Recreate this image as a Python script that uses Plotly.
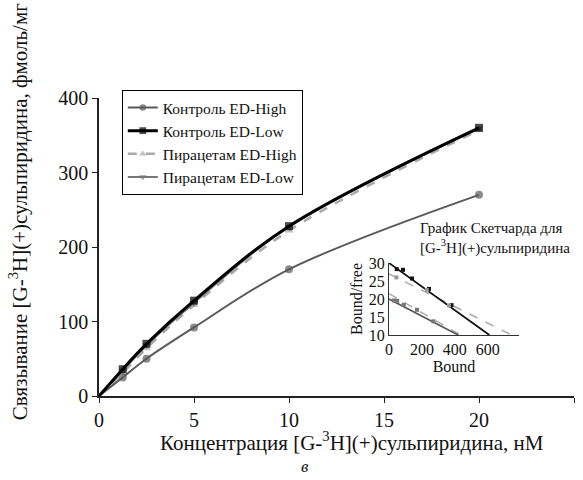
import plotly.graph_objects as go

# Main saturation data
conc = [1.25, 2.5, 5, 10, 20]
ctrl_high = [25, 50, 92, 170, 270]
ctrl_low = [36, 70, 128, 228, 360]
pir_high = [31, 64, 122, 222, 357]
pir_low = [34, 68, 125, 227, 359]

# Scatchard inset data
sc_ctrl_low_b = [47, 85, 140, 243, 380]
sc_ctrl_low_bf = [28.3, 28.1, 25.7, 22.8, 18.3]
sc_ctrl_low_line_x = [0, 610]
sc_ctrl_low_line_y = [30, 10]
sc_pir_high_b = [45, 230, 365]
sc_pir_high_bf = [26.0, 22.5, 18.2]
sc_pir_high_line_x = [0, 745]
sc_pir_high_line_y = [27, 10]
sc_ctrl_high_b = [30, 50, 90, 170, 270]
sc_ctrl_high_bf = [19.6, 19.5, 18.4, 17.0, 13.8]
sc_ctrl_high_line_x = [0, 420]
sc_ctrl_high_line_y = [20, 10]
sc_pir_low_line_x = [0, 435]
sc_pir_low_line_y = [21.5, 10]

FONT = "Liberation Serif"

series = [
    ("Контроль ED-High", ctrl_high, "#5a5a5a", "solid", "circle", 2),
    ("Контроль ED-Low", ctrl_low, "#000000", "solid", "square", 3),
    ("Пирацетам ED-High", pir_high, "#aaaaaa", "dash", "triangle-up", 2.5),
    ("Пирацетам ED-Low", pir_low, "#777777", "solid", "triangle-down", 2),
]

fig = go.Figure()
order = [2, 3, 0, 1]
for i in order:
    name, ys, col, dash, sym, w = series[i]
    fig.add_trace(go.Scatter(
        x=[0] + conc, y=[0] + ys, mode="lines+markers", name=name,
        line=dict(color=col, width=w, dash=dash, shape="spline"),
        marker=dict(symbol=sym, size=[0, 8, 8, 8, 8, 8], color=col,
                    line=dict(width=0)),
        legendrank=i + 1,
    ))

# Inset lines
def inset_line(x, y, col, dash, w=1.5):
    fig.add_trace(go.Scatter(x=x, y=y, mode="lines", xaxis="x2", yaxis="y2",
                             showlegend=False,
                             line=dict(color=col, width=w, dash=dash)))

inset_line(sc_pir_high_line_x, sc_pir_high_line_y, "#aaaaaa", "dash")
inset_line(sc_pir_low_line_x, sc_pir_low_line_y, "#aaaaaa", "dash")
inset_line(sc_ctrl_low_line_x, sc_ctrl_low_line_y, "#111111", "solid", 1.8)
inset_line(sc_ctrl_high_line_x, sc_ctrl_high_line_y, "#555555", "solid", 1.6)

for bx, by, col in [(sc_ctrl_low_b, sc_ctrl_low_bf, "#111111"),
                    (sc_pir_high_b, sc_pir_high_bf, "#999999"),
                    (sc_ctrl_high_b, sc_ctrl_high_bf, "#777777")]:
    fig.add_trace(go.Scatter(x=bx, y=by, mode="markers", xaxis="x2", yaxis="y2",
                             showlegend=False,
                             marker=dict(symbol="square", size=4, color=col)))

fig.update_layout(
    width=583, height=480,
    margin=dict(l=99, r=9, t=98, b=84),
    paper_bgcolor="white", plot_bgcolor="white",
    font=dict(family=FONT, size=20, color="#111"),
    showlegend=True,
    legend=dict(x=0.048, y=1.027, xanchor="left", yanchor="top",
                bordercolor="black", borderwidth=1, bgcolor="white",
                font=dict(family=FONT, size=15.5), tracegroupgap=0,
                itemwidth=30),
    xaxis=dict(range=[0, 25], tickvals=[0, 5, 10, 15, 20, 25],
               showline=True, linecolor="#222", linewidth=1.5,
               ticks="outside", ticklen=5, tickcolor="#222",
               showgrid=False, zeroline=False,
               tickfont=dict(size=20)),
    yaxis=dict(range=[0, 400], tickvals=[0, 100, 200, 300, 400],
               showline=True, linecolor="#222", linewidth=1.5,
               ticks="outside", ticklen=5, tickcolor="#222",
               showgrid=False, zeroline=False,
               tickfont=dict(size=20)),
    xaxis2=dict(domain=[0.6105, 0.8842], anchor="y2", range=[0, 790],
                tickvals=[0, 200, 400, 600], showline=True, linecolor="#333",
                linewidth=1.2, ticks="", showgrid=False, zeroline=False,
                tickfont=dict(size=16), ticklabelstandoff=0,
                title=dict(text="Bound", font=dict(size=16), standoff=0)),
    yaxis2=dict(domain=[0.2047, 0.4463], anchor="x2", range=[10, 30],
                tickvals=[10, 15, 20, 25, 30], showline=True, linecolor="#333",
                linewidth=1.2, ticks="", showgrid=False, zeroline=False,
                tickfont=dict(size=16), ticklabelstandoff=0,
                title=dict(text="Bound/free", font=dict(size=16), standoff=2)),
    annotations=[
        dict(text="Связывание [G-<sup>3</sup>H](+)сульпиридина, фмоль/мг",
             xref="paper", yref="paper", x=(18 - 99) / 475, y=0.617, textangle=-90,
             showarrow=False, xanchor="center", yanchor="middle",
             font=dict(size=21)),
        dict(text="Концентрация [G-<sup>3</sup>H](+)сульпиридина, нМ",
             xref="paper", yref="paper", x=(352 - 99) / 475, y=(396 - 441) / 298,
             showarrow=False, xanchor="center", yanchor="middle",
             font=dict(size=21)),
        dict(text="<i>в</i>", xref="paper", yref="paper", x=(305 - 99) / 475,
             y=(396 - 466) / 298, showarrow=False, xanchor="center",
             yanchor="middle", font=dict(size=17)),
        dict(text="График Скетчарда для<br>[G-<sup>3</sup>H](+)сульпиридина",
             xref="paper", yref="paper", x=(418 - 99) / 475,
             y=(396 - 259) / 298, showarrow=False, xanchor="left",
             yanchor="bottom", align="left", font=dict(size=15)),
    ],
)

fig.write_html("out.html")
